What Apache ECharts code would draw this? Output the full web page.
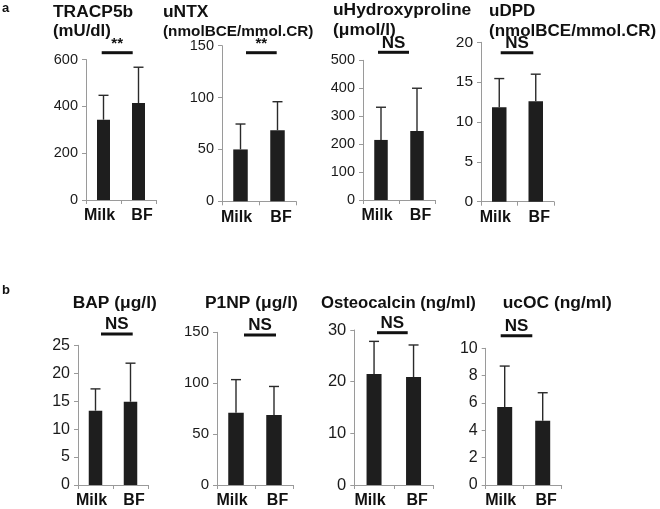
<!DOCTYPE html>
<html><head><meta charset="utf-8">
<script src="https://cdn.jsdelivr.net/npm/echarts@6/dist/echarts.min.js"></script>
<style>html,body{margin:0;padding:0;background:#fff}#c{width:660px;height:509px}</style>
</head><body><div id="c"></div>
<script>
// ---- data ----
const categories = ['Milk', 'BF'];
const titleLine1 = ['TRACP5b', 'uNTX', 'uHydroxyproline', 'uDPD', 'BAP (μg/l)', 'P1NP (μg/l)', 'Osteocalcin (ng/ml)', 'ucOC (ng/ml)'];
const titleLine2 = ['(mU/dl)', '(nmolBCE/mmol.CR)', '(μmol/l)', '(nmolBCE/mmol.CR)', '', '', '', ''];
const significance = ['**', '**', 'NS', 'NS', 'NS', 'NS', 'NS', 'NS'];
const tracp5bMean = [343, 414];
const tracp5bSD = [104, 153];
const untxMean = [50, 68.5];
const untxSD = [24.5, 27.5];
const hypMean = [215, 247];
const hypSD = [117, 153];
const dpdMean = [11.85, 12.6];
const dpdSD = [3.6, 3.4];
const bapMean = [13.3, 14.9];
const bapSD = [3.9, 6.9];
const p1npMean = [71, 68.8];
const p1npSD = [32.5, 28];
const ocMean = [21.5, 20.9];
const ocSD = [6.3, 6.2];
const ucocMean = [5.7, 4.7];
const ucocSD = [3.0, 2.05];
const yMax = [600, 150, 500, 20, 25, 150, 30, 10];
const yInterval = [200, 50, 100, 5, 5, 50, 10, 2];

const means = [tracp5bMean, untxMean, hypMean, dpdMean, bapMean, p1npMean, ocMean, ucocMean];
const sds = [tracp5bSD, untxSD, hypSD, dpdSD, bapSD, p1npSD, ocSD, ucocSD];

// ---- layout ----
const grids = [
  {left: 86, top: 59.5, width: 70, height: 140.5},
  {left: 222, top: 45.7, width: 74, height: 155.6},
  {left: 363, top: 60.3, width: 72, height: 139.7},
  {left: 481, top: 42.3, width: 73, height: 159.4},
  {left: 78, top: 345.3, width: 70, height: 141.7},
  {left: 217, top: 332.3, width: 76, height: 153.4},
  {left: 354.3, top: 330, width: 79, height: 157.3},
  {left: 485.7, top: 348.3, width: 76, height: 140}
];
const barWidths = [13, 14.5, 13.5, 14.5, 13.5, 15.5, 15, 15];
const yLabelSize = [14.5, 14.5, 14.5, 15.5, 16, 15, 16.5, 16];
const titlePos = [
  {x: 53, y1: 12.5, y2: 31.5, size: 17.4, size2: 16.8},
  {x: 163, y1: 12.5, y2: 31.5, size: 17.4, size2: 15.3},
  {x: 333, y1: 10.5, y2: 30.5, size: 17.4, size2: 17.4},
  {x: 489, y1: 11, y2: 31, size: 17, size2: 17},
  {x: 72.7, y1: 303, size: 17.4},
  {x: 205, y1: 303, size: 17.4},
  {x: 321, y1: 303, size: 16.7},
  {x: 502.7, y1: 303, size: 17.4}
];
const sigPos = [
  {x1: 101.7, x2: 132.7, y: 52.7, ty: 44},
  {x1: 246, x2: 276.7, y: 52.7, ty: 44},
  {x1: 378, x2: 409, y: 52.3, ty: 43},
  {x1: 500.7, x2: 533.3, y: 52.7, ty: 43},
  {x1: 101, x2: 132.7, y: 334, ty: 324.5},
  {x1: 244, x2: 276, y: 335, ty: 325.5},
  {x1: 377, x2: 407.7, y: 332.7, ty: 323},
  {x1: 500.7, x2: 532.3, y: 335.7, ty: 326}
];

const FONT = 'Liberation Sans';
const AXIS = '#9a9a9a';
const BAR = '#1e1e1e';

function txt(x, y, text, size, align) {
  return {type: 'text', x: x, y: y, style: {
    text: text, fontFamily: FONT, fontWeight: 'bold', fontSize: size, fill: '#111',
    textAlign: align || 'left', textVerticalAlign: 'middle'
  }};
}

const option = {
  animation: false,
  backgroundColor: '#fff',
  grid: [], xAxis: [], yAxis: [], series: [], graphic: []
};

for (let i = 0; i < 8; i++) {
  option.grid.push(Object.assign({containLabel: false}, grids[i]));
  option.xAxis.push({
    type: 'category', gridIndex: i, data: categories,
    axisLine: {lineStyle: {color: AXIS, width: 1}},
    axisTick: {show: true, length: 4, lineStyle: {color: AXIS}},
    axisLabel: {
      margin: 8, interval: 0,
      formatter: v => v === 'Milk' ? '{m|Milk}' : '{b|BF}',
      rich: {
        m: {fontFamily: FONT, fontWeight: 'bold', fontSize: 16, color: '#111', padding: [0, 8, 0, 0]},
        b: {fontFamily: FONT, fontWeight: 'bold', fontSize: 16, color: '#111', padding: [0, 0, 0, 7]}
      }
    }
  });
  option.yAxis.push({
    type: 'value', gridIndex: i, min: 0, max: yMax[i], interval: yInterval[i],
    axisLine: {show: true, lineStyle: {color: AXIS, width: 1}},
    axisTick: {show: true, length: 4, lineStyle: {color: AXIS}},
    splitLine: {show: false},
    axisLabel: {margin: 8, fontFamily: FONT, fontSize: yLabelSize[i], color: '#1a1a1a'}
  });
  option.series.push({
    type: 'bar', xAxisIndex: i, yAxisIndex: i, data: means[i],
    barWidth: barWidths[i], itemStyle: {color: BAR}, z: 2
  });
  option.series.push({
    type: 'custom', xAxisIndex: i, yAxisIndex: i, z: 3,
    data: means[i].map((m, k) => [k, m, m + sds[i][k]]),
    encode: {x: 0, y: [1, 2]},
    renderItem: function (params, api) {
      const base = api.coord([api.value(0), api.value(1)]);
      const top = api.coord([api.value(0), api.value(2)]);
      const st = {stroke: '#2a2a2a', lineWidth: 1.4};
      return {type: 'group', children: [
        {type: 'line', shape: {x1: base[0], y1: base[1], x2: top[0], y2: top[1]}, style: st},
        {type: 'line', shape: {x1: top[0] - 5, y1: top[1], x2: top[0] + 5, y2: top[1]}, style: st}
      ]};
    }
  });
  const tp = titlePos[i];
  option.graphic.push(txt(tp.x, tp.y1, titleLine1[i], tp.size));
  if (titleLine2[i]) option.graphic.push(txt(tp.x, tp.y2, titleLine2[i], tp.size2));
  const sp = sigPos[i];
  option.graphic.push({type: 'rect', shape: {x: sp.x1, y: sp.y - 1.5, width: sp.x2 - sp.x1, height: 3}, style: {fill: '#111'}});
  option.graphic.push(txt((sp.x1 + sp.x2) / 2, sp.ty, significance[i], significance[i] === '**' ? 15 : 17, 'center'));
}
option.graphic.push(txt(2, 8, 'a', 13));
option.graphic.push(txt(2, 290, 'b', 13));

const chart = echarts.init(document.getElementById('c'), null, {renderer: 'canvas'});
chart.setOption(option);
</script>
</body></html>
